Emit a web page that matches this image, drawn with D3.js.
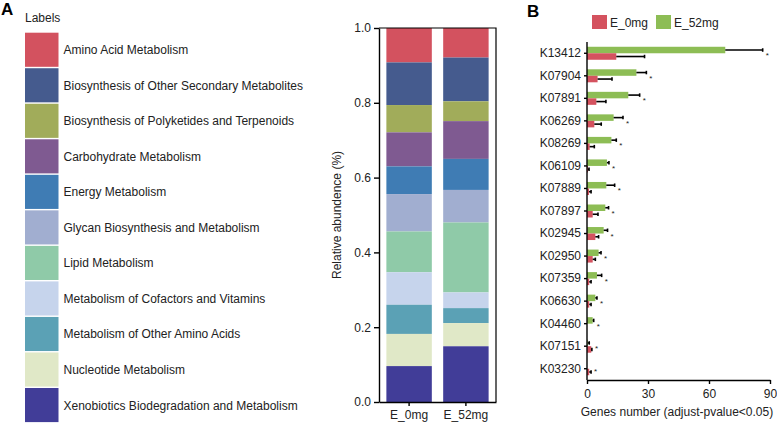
<!DOCTYPE html>
<html>
<head>
<meta charset="utf-8">
<script src="https://cdn.jsdelivr.net/npm/d3@7"></script>
<style>
  body { margin: 0; background: #fff; }
  svg { font-family: "Liberation Sans", Arial, sans-serif; }
  .axis path, .axis line { stroke: #000; stroke-width: 1.4px; }
  .axis text { font-size: 12px; fill: #222; }
</style>
</head>
<body>
<script>
"use strict";
(function(){

    // panel A data
    const pathways = [
        "Amino Acid Metabolism",
        "Biosynthesis of Other Secondary Metabolites",
        "Biosynthesis of Polyketides and Terpenoids",
        "Carbohydrate Metabolism",
        "Energy Metabolism",
        "Glycan Biosynthesis and Metabolism",
        "Lipid Metabolism",
        "Metabolism of Cofactors and Vitamins",
        "Metabolism of Other Amino Acids",
        "Nucleotide Metabolism",
        "Xenobiotics Biodegradation and Metabolism"
    ]
    const pathwayColors = ["#d3525f", "#455b8e", "#a1ac5a", "#7f5a91", "#3f7cb4", "#a1aed0",
                           "#8fcaa8", "#c6d4ec", "#5ba1b5", "#e0e8c7", "#413d98"]
    const samples = ["E_0mg", "E_52mg"]
    const abund0 = [0.092, 0.114, 0.073, 0.091, 0.074, 0.100, 0.109, 0.087, 0.078, 0.086, 0.096]
    const abund52 = [0.079, 0.117, 0.053, 0.101, 0.083, 0.087, 0.187, 0.042, 0.040, 0.062, 0.149]
    const yTicksA = [0, 0.2, 0.4, 0.6, 0.8, 1.0]

    // panel B data
    const kos = ["K13412", "K07904", "K07891", "K06269", "K08269", "K06109", "K07889", "K07897",
                 "K02945", "K02950", "K07359", "K06630", "K04460", "K07151", "K03230"]
    const mean0 = [14.4, 5.2, 4.6, 3.6, 1.3, 0.5, 1.0, 2.8, 4.1, 2.8, 1.1, 1.1, 0, 2.1, 1.1]
    const err0  = [13.9, 7.1, 4.7, 3.4, 2.3, 0.5, 1.0, 2.6, 1.6, 1.3, 0.9, 0.9, 0, 0.3, 0.9]
    const mean52 = [68.0, 24.3, 20.3, 13.1, 12.0, 9.8, 9.5, 9.0, 8.2, 5.7, 4.9, 4.1, 2.8, 0.4, 0]
    const err52  = [18.4, 4.9, 5.6, 4.6, 2.4, 1.0, 4.1, 1.6, 1.9, 1.2, 2.3, 0.8, 0.5, 0.7, 0]
    const xTicksB = [0, 30, 60, 90]
    const groupColors = {"E_0mg": "#d4525f", "E_52mg": "#8dbd55"}

    const svg = d3.select("body").append("svg")
        .attr("width", 777)
        .attr("height", 423)

    // ---------- panel A ----------
    svg.append("text").attr("x", 1).attr("y", 15)
        .style("font-size", "17px").style("font-weight", "bold").text("A")

    svg.append("text").attr("x", 25).attr("y", 22)
        .style("font-size", "12px").style("fill", "#222").text("Labels")

    const legendY = d3.scaleBand()
        .domain(pathways)
        .range([32.7, 32.7 + 35.4 * 11])
        .paddingInner(0.04)
        .paddingOuter(0)

    svg.selectAll(".swatch")
        .data(pathways)
        .enter()
        .append("rect")
            .attr("x", 25)
            .attr("y", d => legendY(d))
            .attr("width", 33.5)
            .attr("height", legendY.bandwidth())
            .attr("fill", (d, i) => pathwayColors[i])

    svg.selectAll(".swatchLabel")
        .data(pathways)
        .enter()
        .append("text")
            .attr("x", 63.5)
            .attr("y", d => legendY(d) + legendY.bandwidth() / 2 + 4.5)
            .style("font-size", "12px")
            .style("fill", "#222")
            .text(d => d)

    const xA = d3.scaleBand()
        .domain(samples)
        .range([379, 496])
        .paddingInner(0.2)
        .paddingOuter(0.13)

    const yA = d3.scaleLinear().domain([0, 1]).range([402, 28])

    const stacks = [abund0, abund52].map((vals, s) => {
        let top = 1
        return vals.map((v, i) => {
            const seg = {sample: samples[s], i: i, y1: top, y0: top - v}
            top -= v
            return seg
        })
    }).flat()

    svg.selectAll(".seg")
        .data(stacks)
        .enter()
        .append("rect")
            .attr("x", d => xA(d.sample))
            .attr("width", xA.bandwidth())
            .attr("y", d => yA(d.y1))
            .attr("height", d => Math.max(0, yA(Math.max(d.y0, 0)) - yA(d.y1)))
            .attr("fill", d => pathwayColors[d.i])

    // frame top and right
    svg.append("path")
        .attr("d", "M379," + yA(1) + "H496V" + yA(0))
        .attr("fill", "none").attr("stroke", "#000").attr("stroke-width", 1.2)

    svg.append("g")
        .attr("class", "axis")
        .attr("transform", "translate(379,0)")
        .call(d3.axisLeft(yA).tickValues(yTicksA).tickFormat(d3.format(".1f")).tickSize(5).tickSizeOuter(0))

    svg.append("g")
        .attr("class", "axis")
        .attr("transform", "translate(0," + yA(0) + ")")
        .call(d3.axisBottom(xA).tickSize(4).tickSizeOuter(0).tickPadding(4))

    svg.append("text")
        .attr("text-anchor", "middle")
        .attr("transform", "translate(341,215)rotate(-90)")
        .style("font-size", "12px").style("fill", "#222")
        .text("Relative abundence (%)")

    // ---------- panel B ----------
    svg.append("text").attr("x", 527).attr("y", 17)
        .style("font-size", "17px").style("font-weight", "bold").text("B")

    const legendB = [["E_0mg", 592, 610], ["E_52mg", 656, 674]]
    legendB.forEach(l => {
        svg.append("rect").attr("x", l[1]).attr("y", 15).attr("width", 15).attr("height", 14)
            .attr("fill", groupColors[l[0]])
        svg.append("text").attr("x", l[2]).attr("y", 26.5)
            .style("font-size", "12px").style("fill", "#222").text(l[0])
    })

    const xB = d3.scaleLinear().domain([0, 90]).range([587, 770])
    const yB = d3.scaleBand().domain(kos).range([42, 380])
    const inner = d3.scaleBand().domain(["E_52mg", "E_0mg"]).range([0, 13])

    const rows = kos.map((k, i) => ({
        ko: k,
        bars: [
            {g: "E_52mg", v: mean52[i], e: err52[i]},
            {g: "E_0mg", v: mean0[i], e: err0[i]}
        ]
    }))

    const rowG = svg.selectAll(".row")
        .data(rows)
        .enter()
        .append("g")
            .attr("transform", d => "translate(0," + (yB(d.ko) + yB.bandwidth() / 2 - 6.5) + ")")

    const barG = rowG.selectAll(".bar")
        .data(d => d.bars)
        .enter()
        .append("g")

    barG.append("rect")
        .attr("x", xB(0))
        .attr("y", d => inner(d.g))
        .attr("width", d => xB(d.v) - xB(0))
        .attr("height", inner.bandwidth())
        .attr("fill", d => groupColors[d.g])

    barG.filter(d => d.e > 0).append("line")
        .attr("x1", d => xB(d.v)).attr("x2", d => xB(d.v + d.e))
        .attr("y1", d => inner(d.g) + inner.bandwidth() / 2)
        .attr("y2", d => inner(d.g) + inner.bandwidth() / 2)
        .attr("stroke", "#000").attr("stroke-width", 1.6)

    barG.filter(d => d.e > 0).append("line")
        .attr("x1", d => xB(d.v + d.e)).attr("x2", d => xB(d.v + d.e))
        .attr("y1", d => inner(d.g) + 1.5)
        .attr("y2", d => inner(d.g) + inner.bandwidth() - 1.5)
        .attr("stroke", "#000").attr("stroke-width", 1.6)

    rowG.append("text")
        .attr("x", d => d3.max(d.bars, b => xB(b.v + b.e)) + 3)
        .attr("y", 11.5)
        .style("font-size", "8px")
        .style("fill", "#222")
        .text("*")

    svg.append("g")
        .attr("class", "axis")
        .attr("transform", "translate(587,0)")
        .call(d3.axisLeft(yB).tickSize(3).tickSizeOuter(0).tickPadding(3))
        .call(g => g.select(".domain").attr("d", "M0,42V380"))

    svg.append("g")
        .attr("class", "axis")
        .attr("transform", "translate(0,380)")
        .call(d3.axisBottom(xB).tickValues(xTicksB).tickSize(4).tickSizeOuter(0).tickPadding(5))

    svg.append("text")
        .attr("text-anchor", "middle")
        .attr("x", 677).attr("y", 416)
        .style("font-size", "12px").style("fill", "#222")
        .text("Genes number (adjust-pvalue<0.05)")
})()
</script>
</body>
</html>
